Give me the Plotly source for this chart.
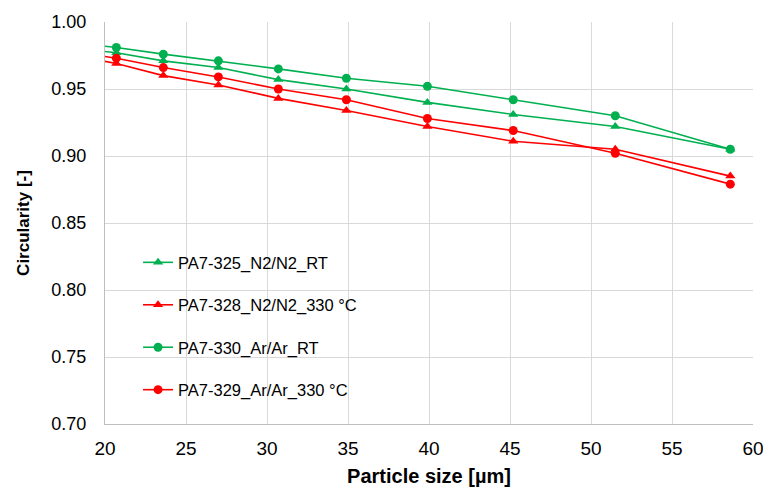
import plotly.graph_objects as go

x_size = [18.5, 20.7, 23.6, 27.0, 30.7, 34.9, 39.9, 45.2, 51.5, 58.6]

pa325_n2_rt = [0.980, 0.977, 0.971, 0.966, 0.957, 0.950, 0.940, 0.931, 0.922, 0.905]
pa328_n2_330 = [0.974, 0.969, 0.960, 0.953, 0.943, 0.934, 0.922, 0.911, 0.905, 0.885]
pa330_ar_rt = [0.984, 0.981, 0.976, 0.971, 0.965, 0.958, 0.952, 0.942, 0.930, 0.905]
pa329_ar_330 = [0.977, 0.973, 0.966, 0.959, 0.950, 0.942, 0.928, 0.919, 0.902, 0.879]

names = ["PA7-325_N2/N2_RT", "PA7-328_N2/N2_330 °C", "PA7-330_Ar/Ar_RT", "PA7-329_Ar/Ar_330 °C"]
series = [pa325_n2_rt, pa328_n2_330, pa330_ar_rt, pa329_ar_330]
colors = ["#00B050", "#FF0000", "#00B050", "#FF0000"]
symbols = ["triangle-up", "triangle-up", "circle", "circle"]

fig = go.Figure()
for i, (n, s, c, sym) in enumerate(zip(names, series, colors, symbols)):
    fig.add_trace(go.Scatter(
        x=x_size, y=s, name=n, mode="lines+markers",
        line=dict(color=c, width=1.6),
        marker=dict(symbol=sym, size=9, color=c),
        legendgroup=f"g{i}",
        cliponaxis=True,
    ))

FONT = "Liberation Sans, Arial, sans-serif"
fig.update_layout(
    width=763, height=488,
    margin=dict(l=105, r=10, t=22, b=64),
    paper_bgcolor="white", plot_bgcolor="white",
    font=dict(family=FONT, color="#000000"),
    showlegend=True,
    legend=dict(
        x=0.051, y=0.445, xanchor="left", yanchor="top",
        bgcolor="rgba(0,0,0,0)",
        font=dict(size=16.5, family=FONT),
        tracegroupgap=18,
        itemwidth=30,
    ),
    xaxis=dict(
        range=[20, 60], dtick=5, tick0=20,
        showgrid=True, gridcolor="#d9d9d9", gridwidth=1,
        showline=True, linecolor="#bfbfbf", linewidth=1,
        zeroline=False, ticks="", automargin=False,
        ticklabeloverflow="allow",
        tickfont=dict(family=FONT, size=19, color="#000000"),
        ticklabelstandoff=7,
        title=dict(text="<b>Particle size [µm]</b>", font=dict(size=20), standoff=11),
    ),
    yaxis=dict(
        range=[0.70, 1.00], dtick=0.05, tick0=0.70, tickformat=".2f",
        showgrid=True, gridcolor="#d9d9d9", gridwidth=1,
        showline=True, linecolor="#bfbfbf", linewidth=1,
        zeroline=False, ticks="", automargin=False,
        ticklabeloverflow="allow",
        tickfont=dict(family=FONT, size=18, color="#000000"),
        ticklabelstandoff=14,
        title=dict(text="<b>Circularity [-]</b>", font=dict(size=17), standoff=17),
    ),
)

fig.write_html("out.html")
